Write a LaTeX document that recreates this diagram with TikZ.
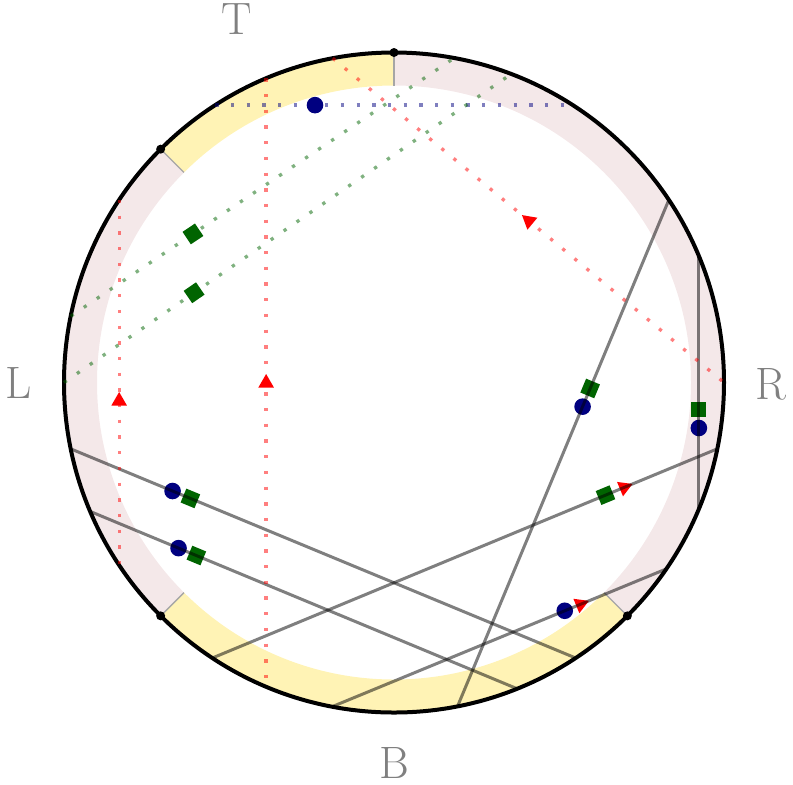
\documentclass[tikz,border=0pt]{standalone}
\usetikzlibrary{calc,shapes.geometric}
\definecolor{bandyellow}{RGB}{255,243,181}
\definecolor{bandpink}{RGB}{244,232,233}
\definecolor{dotblue}{RGB}{0,0,128}
\definecolor{sqgreen}{RGB}{0,100,0}
\begin{document}
\begin{tikzpicture}[x=0.5pt,y=0.5pt,
  chord/.style={black,opacity=0.5,line width=1.5pt},
  dotline/.style={line width=1.65pt,dash pattern=on 1.65pt off 6.2pt,opacity=0.5},
  bluedot/.style={circle,fill=dotblue,inner sep=0pt,minimum size=8.3pt},
  greensq/.style={rectangle,fill=sqgreen,inner sep=0pt,minimum size=7.5pt},
  redtri/.style={regular polygon,regular polygon sides=3,fill=red,inner sep=0pt,minimum size=9pt},
  lab/.style={text=black!50,inner sep=0pt,font=\fontsize{22.7}{27}\selectfont},
  divider/.style={black!35,line width=0.7pt},
  vdot/.style={circle,fill=black,inner sep=0pt,minimum size=4.5pt}
]
\useasboundingbox (0,0) rectangle (793,-784);
\coordinate (C) at (394,-382.5);
\def\Ro{330}
\def\Ri{297}
% bands
\fill[bandyellow] ($(C)+(90:\Ro)$) arc[start angle=90,end angle=135,radius=\Ro] -- ($(C)+(135:\Ri)$) arc[start angle=135,end angle=90,radius=\Ri] -- cycle;
\fill[bandyellow] ($(C)+(225:\Ro)$) arc[start angle=225,end angle=315,radius=\Ro] -- ($(C)+(315:\Ri)$) arc[start angle=315,end angle=225,radius=\Ri] -- cycle;
\fill[bandpink] ($(C)+(135:\Ro)$) arc[start angle=135,end angle=225,radius=\Ro] -- ($(C)+(225:\Ri)$) arc[start angle=225,end angle=135,radius=\Ri] -- cycle;
\fill[bandpink] ($(C)+(-45:\Ro)$) arc[start angle=-45,end angle=90,radius=\Ro] -- ($(C)+(90:\Ri)$) arc[start angle=90,end angle=-45,radius=\Ri] -- cycle;
% dividers
\foreach \a in {90,135,225,315}{
  \draw[divider] ($(C)+(\a:\Ri)$) -- ($(C)+(\a:\Ro)$);
}
% outer circle
\draw[line width=2pt] (C) circle[radius=\Ro];
\node[vdot] (v1) at ($(C)+(90:\Ro)$) {};
\node[vdot] (v2) at ($(C)+(135:\Ro)$) {};
\node[vdot] (v3) at ($(C)+(225:\Ro)$) {};
\node[vdot] (v4) at ($(C)+(315:\Ro)$) {};
% chord end points
\coordinate (a1) at ($(C)+(33.6:\Ro)$);
\coordinate (a2) at ($(C)+(281.1:\Ro)$);
\coordinate (b1) at ($(C)+(22.5:\Ro)$);
\coordinate (b2) at ($(C)+(-22.5:\Ro)$);
\coordinate (c1) at ($(C)+(-11.6:\Ro)$);
\coordinate (c2) at ($(C)+(236.6:\Ro)$);
\coordinate (d1) at ($(C)+(191.6:\Ro)$);
\coordinate (d2) at ($(C)+(303.4:\Ro)$);
\coordinate (e1) at ($(C)+(203:\Ro)$);
\coordinate (e2) at ($(C)+(291.9:\Ro)$);
\coordinate (f1) at ($(C)+(-34.4:\Ro)$);
\coordinate (f2) at ($(C)+(259.2:\Ro)$);
% dotted end points
\coordinate (h1) at ($(C)+(57.2:\Ro)$);
\coordinate (h2) at ($(C)+(122.8:\Ro)$);
\coordinate (r11) at ($(C)+(112.8:\Ro)$);
\coordinate (r12) at ($(C)+(247.2:\Ro)$);
\coordinate (r21) at ($(C)+(146.4:\Ro)$);
\coordinate (r22) at ($(C)+(213.6:\Ro)$);
\coordinate (r31) at ($(C)+(100.7:\Ro)$);
\coordinate (r32) at ($(C)+(0:\Ro)$);
\coordinate (g11) at ($(C)+(168.4:\Ro)$);
\coordinate (g12) at ($(C)+(79.5:\Ro)$);
\coordinate (g21) at ($(C)+(180:\Ro)$);
\coordinate (g22) at ($(C)+(69.2:\Ro)$);
% markers
\node[bluedot] (m1) at ($(h1)!(315,-106)!(h2)$) {};
\node[bluedot] (m2) at ($(a1)!(581,-406)!(a2)$) {};
\node[bluedot] (m3) at ($(b1)!(697,-428)!(b2)$) {};
\node[bluedot] (m4) at ($(d1)!(173,-490)!(d2)$) {};
\node[bluedot] (m5) at ($(e1)!(179,-547)!(e2)$) {};
\node[bluedot] (m6) at ($(f1)!(564,-609)!(f2)$) {};
\node[greensq,rotate=33.9] (s1) at ($(g11)!(193,-234)!(g12)$) {};
\node[greensq,rotate=34.6] (s2) at ($(g21)!(195,-294)!(g22)$) {};
\node[greensq,rotate=67.4] (s3) at ($(a1)!(589,-388)!(a2)$) {};
\node[greensq] (s4) at ($(b1)!(697,-409)!(b2)$) {};
\node[greensq,rotate=22.5] (s5) at ($(c1)!(605,-494)!(c2)$) {};
\node[greensq,rotate=-22.5] (s6) at ($(d1)!(191,-497)!(d2)$) {};
\node[greensq,rotate=-22.5] (s7) at ($(e1)!(197,-554)!(e2)$) {};
\node[redtri] (t1) at ($(r11)!(266,-383)!(r12)$) {};
\node[redtri] (t2) at ($(r21)!(119,-401)!(r22)$) {};
\node[redtri,rotate=50.4] (t3) at ($(r31)!(528,-222)!(r32)$) {};
\node[redtri,rotate=-67.5] (t4) at ($(c1)!(624,-487)!(c2)$) {};
\node[redtri,rotate=-67.5] (t5) at ($(f1)!(580,-603)!(f2)$) {};
% chords
\draw[chord] (a1) -- (a2);
\draw[chord] (b1) -- (b2);
\draw[chord] (c1) -- (c2);
\draw[chord] (d1) -- (d2);
\draw[chord] (e1) -- (e2);
\draw[chord] (f1) -- (f2);
% dotted lines
\draw[dotline,dotblue] (h2) -- (h1);
\draw[dotline,red] (r11) -- (r12);
\draw[dotline,red] (r21) -- (r22);
\draw[dotline,red] (r31) -- (r32);
\draw[dotline,sqgreen] (g11) -- (g12);
\draw[dotline,sqgreen] (g21) -- (g22);
% labels
\node[lab] (lT) at (236.7,-19.5) {T};
\node[lab] (lL) at (19,-383) {L};
\node[lab] (lR) at (771,-384.5) {R};
\node[lab] (lB) at (394,-763) {B};
\end{tikzpicture}
\end{document}
